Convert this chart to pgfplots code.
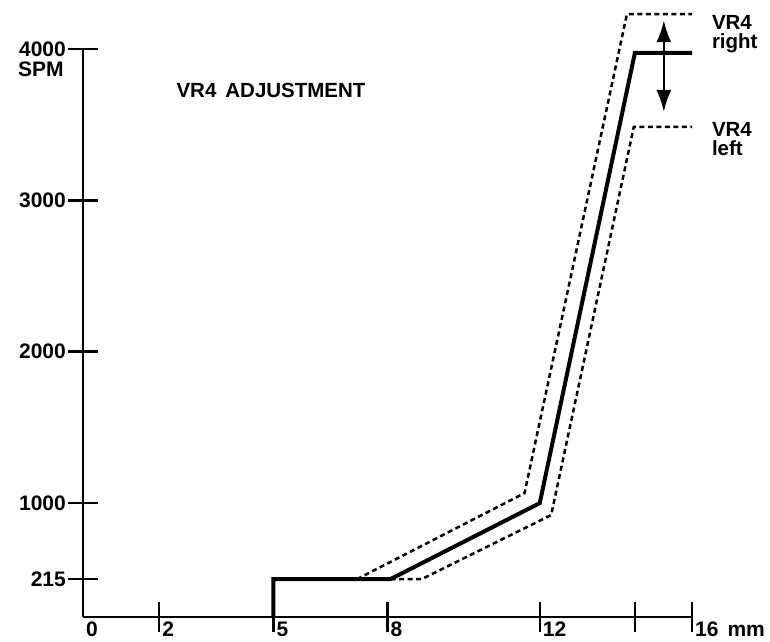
\documentclass[border=0pt]{standalone}
\usepackage{fontspec}
\setmainfont{Liberation Sans}
\usepackage{pgfplots}
\pgfplotsset{compat=1.18}
\usetikzlibrary{arrows.meta}
\begin{document}
\begin{tikzpicture}
\useasboundingbox (0,0) rectangle (770pt,641pt);
\begin{axis}[
  at={(83pt,24pt)}, anchor=south west,
  scale only axis, width=609pt, height=568pt,
  xmin=0, xmax=16, ymin=247.5, ymax=4000,
  axis lines=left, axis line style={-, line width=2.5pt},
  clip=false,
  xtick={2,5,8,12,14.5,16}, xticklabels={2,5,8,12,,16\hspace{9pt}mm},
  extra x ticks={0}, extra x tick labels={0}, extra x tick style={tick style={draw=none}},
  ytick={498,1000,2000,3000,4000}, yticklabels={215,1000,2000,3000,4000},
  tick align=center, major tick length=30pt, tick style={line width=2.5pt, black},
  /pgf/number format/assume math mode=true,
  tick label style={font=\bfseries\fontsize{21}{23}\selectfont, inner sep=0pt},
  xticklabel style={anchor=north west, xshift=3pt, yshift=10pt},
  yticklabel style={anchor=east, xshift=-2pt},
]
% main curve (nonlinear axis: 215 SPM drawn at 498)
\addplot[black, line width=4pt, line join=miter] coordinates {
  (5,247.5) (5,498) (8.08,498) (12,1000) (14.5,3975) (16,3975)};
% VR4 right
\addplot[black, line width=2.5pt, dash pattern=on 5pt off 3.5pt] coordinates {
  (7.2,498) (11.6,1066) (14.29,4231) (16,4231)};
% VR4 left
\addplot[black, line width=2.5pt, dash pattern=on 5pt off 3.5pt] coordinates {
  (8.08,498) (8.9,498) (12.3,921) (14.47,3485) (16,3485)};
\draw[line width=2.5pt, {Latex[length=22pt,width=15pt]}-{Latex[length=22pt,width=15pt]}]
  (axis cs:15.26,4190) -- (axis cs:15.26,3584);
\node[font=\bfseries\fontsize{20.5}{22}\selectfont, inner sep=0pt] at (axis cs:4.94,3729) {VR4\hspace{9pt}ADJUSTMENT};
\node[font=\bfseries\fontsize{21}{22}\selectfont, inner sep=0pt, anchor=north west] at (axis cs:-1.71,3915) {SPM};
\node[font=\bfseries\fontsize{20.5}{19}\selectfont, inner sep=0pt, anchor=north west, align=left] at (axis cs:16.52,4224) {VR4\\right};
\node[font=\bfseries\fontsize{20.5}{19}\selectfont, inner sep=0pt, anchor=north west, align=left] at (axis cs:16.52,3518) {VR4\\left};
\end{axis}
\end{tikzpicture}
\end{document}
